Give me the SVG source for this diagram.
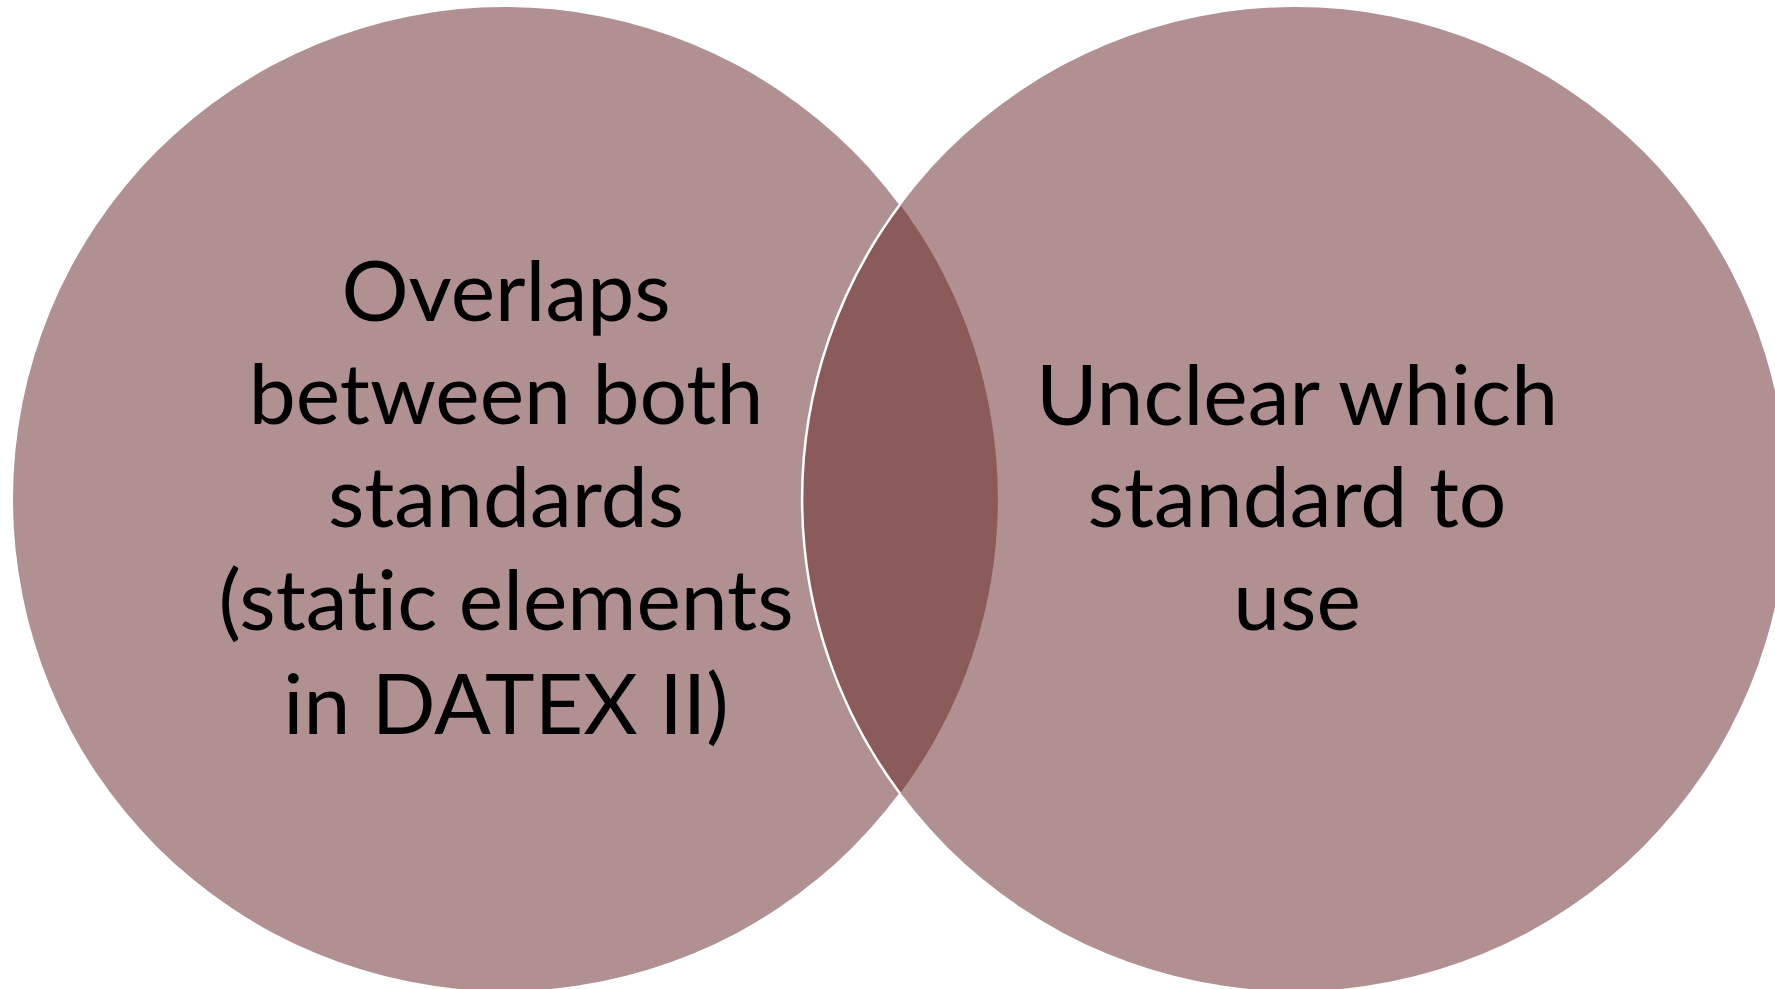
<svg xmlns="http://www.w3.org/2000/svg" width="1775" height="989" viewBox="0 0 1775 989">
<style>
.c{fill:#B09091}
.i{fill:#8B5A5B}
.t{font-family:Lato,"Liberation Sans",sans-serif;font-size:84px;fill:#000;text-anchor:middle;font-variant-ligatures:none;font-feature-settings:"liga" 0,"clig" 0,"dlig" 0}
</style>
<rect width="1775" height="989" fill="#fff"/>
<g id="left-circle">
<circle class="c" cx="505" cy="499" r="492"/>
</g>
<g id="right-circle">
<circle class="c" cx="1295" cy="499" r="492"/>
</g>
<g id="intersection">
<path class="i" d="M900,204.5 A492,492 0 0 1 900,793.5 A492,492 0 0 1 900,204.5 Z"/>
<path d="M900,204.5 A492,492 0 0 0 900,793.5" fill="none" stroke="#fff" stroke-width="2.5"/>
</g>
<g id="connectors"></g>
<g id="left-text">
<text class="t" x="506" y="321">Overlaps</text>
<text class="t" x="506" y="424">between both</text>
<text class="t" x="506" y="527">standards</text>
<text class="t" x="506" y="630">(static elements</text>
<text class="t" x="506" y="734">in DATEX II)</text>
</g>
<g id="right-text">
<text class="t" x="1297" y="425">Unclear which</text>
<text class="t" x="1297" y="527">standard to</text>
<text class="t" x="1297" y="630">use</text>
</g>
</svg>
